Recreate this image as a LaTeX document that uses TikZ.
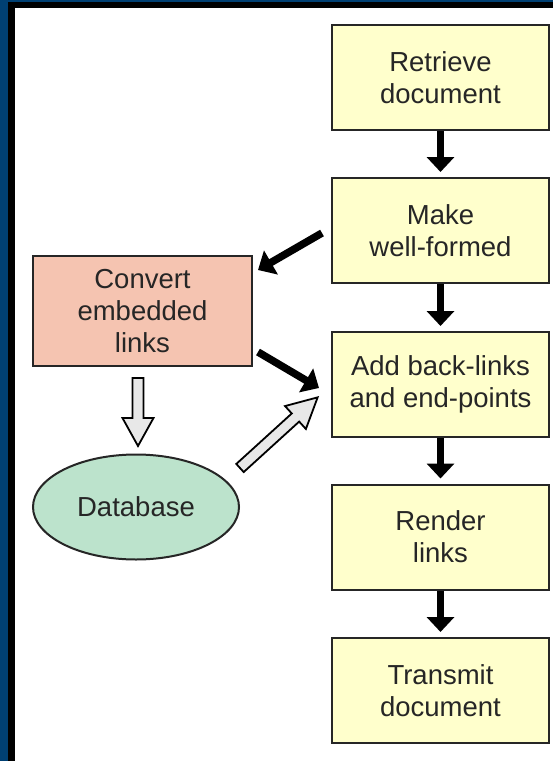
\documentclass[tikz,border=0pt]{standalone}
\usepackage{fontspec}
\setmainfont{Liberation Sans}
\usetikzlibrary{arrows.meta,shapes.geometric,calc}
\definecolor{frameblue}{HTML}{004073}
\definecolor{boxyellow}{HTML}{FFFFCC}
\definecolor{boxsalmon}{HTML}{F5C4B1}
\definecolor{dbgreen}{HTML}{BCE3CC}
\definecolor{hollowfill}{HTML}{E8E8E8}
\definecolor{inktext}{HTML}{262626}
\begin{document}
\begin{tikzpicture}[x=1pt,y=-1pt,
  stepbox/.style={draw=black!85, line width=2pt, fill=boxyellow, minimum width=217pt,
    minimum height=105pt, align=center, font=\fontsize{27.5}{32}\selectfont, text=inktext, inner sep=0pt},
  convbox/.style={stepbox, fill=boxsalmon, minimum width=219pt, minimum height=110pt},
  dbnode/.style={ellipse, draw=black!85, line width=2pt, fill=dbgreen, minimum width=206pt,
    minimum height=105pt, font=\fontsize{27.5}{32}\selectfont, text=inktext, inner sep=0pt},
  solidarrow/.style={line width=7.5pt, black, -{Triangle[length=15pt,width=27pt]}},
  hollowshape/.style={draw=black, line width=1.8pt, fill=hollowfill, line join=miter}
]
\fill[frameblue] (0,0) rectangle (553,761);
\fill[black] (8,2) rectangle (553,761);
\fill[white] (15,8) rectangle (553,761);
\useasboundingbox (0,0) rectangle (553,761);

\node[stepbox] (retrieve) at (440.5,77.5) {Retrieve\\document};
\node[stepbox] (make) at (440.5,230.5) {Make\\well-formed};
\node[stepbox] (add) at (440.5,384.5) {Add back-links\\and end-points};
\node[stepbox] (render) at (440.5,537) {Render\\links};
\node[stepbox] (transmit) at (440.5,690.5) {Transmit\\document};
\node[convbox] (convert) at (142.5,311) {Convert\\embedded\\links};
\node[dbnode] (db) at (136,507) {Database};

\draw[solidarrow] (retrieve.south) -- ([yshift=5pt]make.north);
\draw[solidarrow] (make.south) -- ([yshift=5pt]add.north);
\draw[solidarrow] (add.south) -- ([yshift=5pt]render.north);
\draw[solidarrow] (render.south) -- ([yshift=5pt]transmit.north);

\coordinate (m2c-a) at (322,233);
\coordinate (m2c-b) at (258,270);
\coordinate (c2a-a) at (258,352);
\coordinate (c2a-b) at (319,388);
\draw[solidarrow] (m2c-a) -- (m2c-b);
\draw[solidarrow] (c2a-a) -- (c2a-b);

% hollow arrows (local x axis along the arrow)
\coordinate (c2d-a) at (138,378);
\coordinate (d2a-a) at (240,468);
\begin{scope}[shift={(c2d-a)}, rotate=-90]
  \draw[hollowshape] (0,-5.5) -- (40,-5.5) -- (40,-15.5) -- (68,0) -- (40,15.5) -- (40,5.5) -- (0,5.5) -- cycle;
\end{scope}
\begin{scope}[shift={(d2a-a)}, rotate=42.3]
  \draw[hollowshape] (0,-5.5) -- (75,-5.5) -- (75,-15.5) -- (105,0) -- (75,15.5) -- (75,5.5) -- (0,5.5) -- cycle;
\end{scope}
\end{tikzpicture}
\end{document}
